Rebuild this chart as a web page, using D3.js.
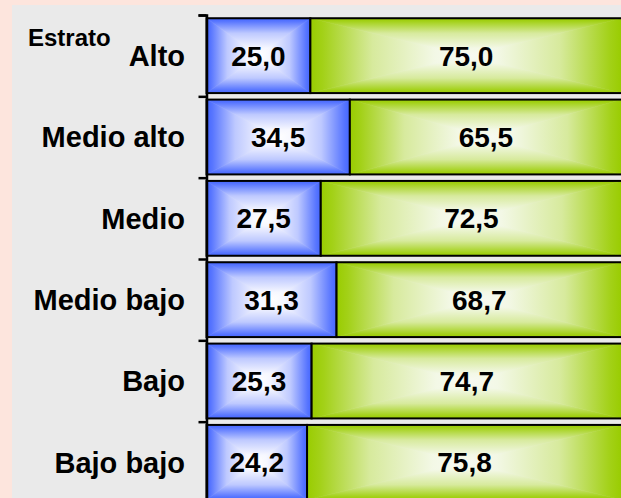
<!DOCTYPE html>
<html>
<head>
<meta charset="utf-8">
<script src="https://cdn.jsdelivr.net/npm/d3@7"></script>
<style>
  body { margin: 0; padding: 0; overflow: hidden; }
  text { font-family: Arial, "Liberation Sans", sans-serif; font-weight: bold; fill: #000; }
</style>
</head>
<body>
<svg id="chart"></svg>
<script>

// data
const categories = ["Alto", "Medio alto", "Medio", "Medio bajo", "Bajo", "Bajo bajo"];
const seriesBlue = [25.0, 34.5, 27.5, 31.3, 25.3, 24.2];
const seriesGreen = [75.0, 65.5, 72.5, 68.7, 74.7, 75.8];
const axisTitle = "Estrato";

const width = 621, height = 498;

const svg = d3.select("#chart")
	.attr("width", width)
	.attr("height", height);

// backgrounds
svg.append("rect").attr("width", width).attr("height", height).attr("fill", "#fde5dd");
svg.append("rect").attr("x", 12).attr("y", 5)
	.attr("width", width - 12).attr("height", height - 5)
	.attr("fill", "#eaeaea");

// the chart runs off the bottom/right edge in the original
const xScale = d3.scaleLinear().domain([0, 100]).range([206.5, 622]);
const yScale = d3.scaleBand().domain(categories).range([15, 503])
	.paddingInner(0.08).paddingOuter(0.04);
const yIndex = d3.scaleLinear().domain([0, categories.length]).range([15, 503]);

const fmt = v => d3.format(".1f")(v).replace(".", ",");

// rectangular "path" gradients: four triangles, each with a linear ramp to the centre
const defs = svg.append("defs");
const colors = { blue: "#4466ff", green: "#99cc00" };
const centers = { blue: "#ffffff", green: "#f8faf2" };
const dirs = {
	left: [0, 0, 1, 0],
	right: [1, 0, 0, 0],
	top: [0, 0, 0, 1],
	bottom: [0, 1, 0, 0]
};
Object.keys(colors).forEach(c => {
	const mid = d3.interpolateRgb(colors[c], centers[c]);
	Object.keys(dirs).forEach(dname => {
		const d = dirs[dname];
		const g = defs.append("linearGradient")
			.attr("id", "g-" + c + "-" + dname)
			.attr("x1", d[0]).attr("y1", d[1])
			.attr("x2", d[2]).attr("y2", d[3]);
		g.append("stop").attr("offset", 0).attr("stop-color", colors[c]);
		g.append("stop").attr("offset", 0.08).attr("stop-color", mid(0.1));
		g.append("stop").attr("offset", 0.4).attr("stop-color", mid(0.65));
		g.append("stop").attr("offset", 0.8).attr("stop-color", mid(0.95));
		g.append("stop").attr("offset", 1).attr("stop-color", centers[c]);
	});
});

function drawBar(g, x0, x1, y0, h, color) {
	const y1 = y0 + h, cx = (x0 + x1) / 2, cy = y0 + h / 2;
	const tris = {
		top: [[x0, y0], [x1, y0], [cx, cy]],
		bottom: [[x0, y1], [x1, y1], [cx, cy]],
		left: [[x0, y0], [x0, y1], [cx, cy]],
		right: [[x1, y0], [x1, y1], [cx, cy]]
	};
	Object.keys(tris).forEach(k => {
		g.append("polygon")
			.attr("points", tris[k].map(p => p.join(",")).join(" "))
			.attr("fill", "url(#g-" + color + "-" + k + ")")
			.attr("stroke", "url(#g-" + color + "-" + k + ")")
			.attr("stroke-width", 0.6);
	});
	g.append("rect")
		.attr("x", x0).attr("y", y0)
		.attr("width", x1 - x0).attr("height", h)
		.attr("fill", "none")
		.attr("stroke", "#000")
		.attr("stroke-width", 2);
}

const bars = svg.append("g").attr("class", "bars");

categories.forEach((cat, i) => {
	const y0 = yScale(cat), h = yScale.bandwidth();
	const g = bars.append("g");
	drawBar(g, xScale(0), xScale(seriesBlue[i]), y0, h, "blue");
	drawBar(g, xScale(seriesBlue[i]), xScale(seriesBlue[i] + seriesGreen[i]), y0, h, "green");

	g.append("text")
		.attr("x", (xScale(0) + xScale(seriesBlue[i])) / 2)
		.attr("y", y0 + h / 2)
		.attr("dy", "0.36em")
		.attr("text-anchor", "middle")
		.attr("font-size", "28px")
		.text(fmt(seriesBlue[i]));

	g.append("text")
		.attr("x", (xScale(seriesBlue[i]) + xScale(seriesBlue[i] + seriesGreen[i])) / 2)
		.attr("y", y0 + h / 2)
		.attr("dy", "0.36em")
		.attr("text-anchor", "middle")
		.attr("font-size", "28px")
		.text(fmt(seriesGreen[i]));
});

// category axis, ticks between the bands
const yAxis = svg.append("g")
	.attr("class", "y axis")
	.attr("transform", "translate(" + xScale(0) + ",0)")
	.call(d3.axisLeft(yIndex)
		.tickValues(d3.range(0, categories.length + 1))
		.tickFormat("")
		.tickSize(8)
		.tickSizeOuter(8));
yAxis.selectAll("path, line").attr("stroke", "#000").attr("stroke-width", 2.5);

svg.append("g")
	.selectAll("text")
	.data(categories).enter()
	.append("text")
	.attr("x", 185)
	.attr("y", d => yScale(d) + yScale.bandwidth() / 2)
	.attr("dy", "0.36em")
	.attr("text-anchor", "end")
	.attr("font-size", "29px")
	.text(d => d);

svg.append("text")
	.attr("x", 28)
	.attr("y", 46)
	.attr("font-size", "24px")
	.text(axisTitle);

</script>
</body>
</html>
